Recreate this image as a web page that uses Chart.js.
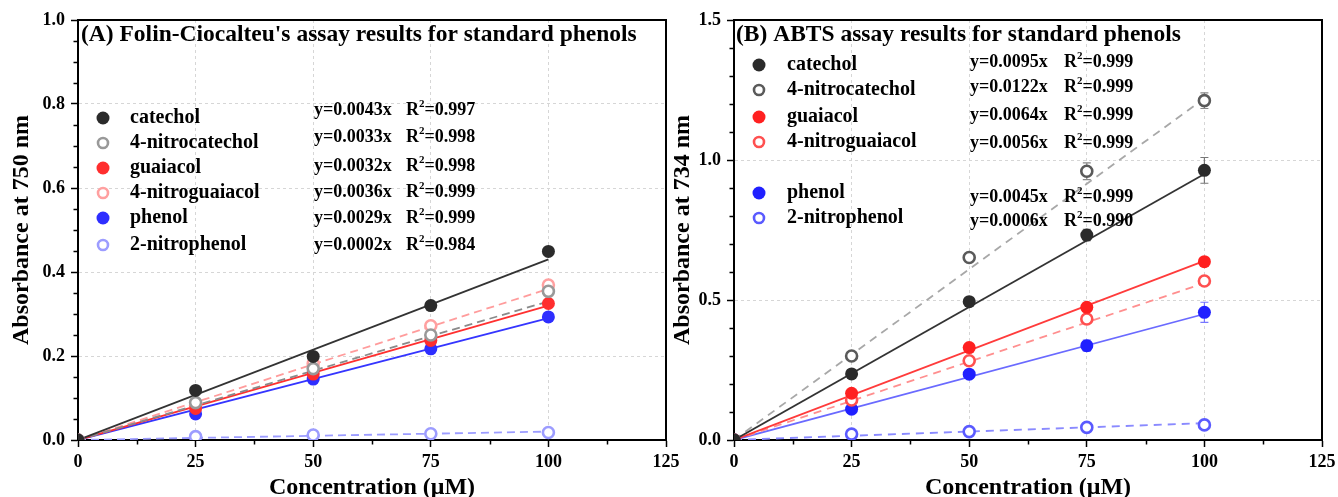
<!DOCTYPE html>
<html><head><meta charset="utf-8">
<script src="https://cdn.jsdelivr.net/npm/chart.js@4"></script>
<style>
html,body{margin:0;padding:0;background:#fff;}
#wrap{position:relative;width:1338px;height:497px;overflow:hidden;background:#fff;}
#boxA{position:absolute;left:0;top:0;width:700px;height:497px;}
#boxB{position:absolute;left:669px;top:0;width:669px;height:497px;}
canvas{display:block;}
</style></head><body>
<div id="wrap">
<div id="boxA"><canvas id="cA" width="700" height="497"></canvas></div>
<div id="boxB"><canvas id="cB" width="669" height="497"></canvas></div>
</div>
<script>
// ---------- DATA ----------
const concentrations = [0, 25, 50, 75, 100];
const compounds = ['catechol', '4-nitrocatechol', 'guaiacol', '4-nitroguaiacol', 'phenol', '2-nitrophenol'];
const xTickLabels = ['0', '25', '50', '75', '100', '125'];
const yTickLabelsA = ['0.0', '0.2', '0.4', '0.6', '0.8', '1.0'];
const yTickLabelsB = ['0.0', '0.5', '1.0', '1.5'];

// (A) Folin-Ciocalteu absorbance at 750 nm
const folinCatechol       = [0, 0.118, 0.199, 0.320, 0.449];
const folinNitrocatechol  = [0, 0.089, 0.170, 0.250, 0.354];
const folinGuaiacol       = [0, 0.075, 0.157, 0.237, 0.325];
const folinNitroguaiacol  = [0, 0.082, 0.182, 0.272, 0.369];
const folinPhenol         = [0, 0.062, 0.145, 0.217, 0.293];
const folinNitrophenol    = [0, 0.008, 0.012, 0.015, 0.018];
const folinErr            = [0, 0.006, 0.006, 0.006, 0.006];
const folinSlopes = [0.0043, 0.0033, 0.0032, 0.0036, 0.0029, 0.0002];
const folinR2     = ['0.997', '0.998', '0.998', '0.999', '0.999', '0.984'];

// (B) ABTS absorbance at 734 nm
const abtsCatechol        = [0, 0.236, 0.494, 0.732, 0.963];
const abtsNitrocatechol   = [0, 0.300, 0.652, 0.960, 1.212];
const abtsGuaiacol        = [0, 0.167, 0.330, 0.474, 0.637];
const abtsNitroguaiacol   = [0, 0.143, 0.283, 0.432, 0.568];
const abtsPhenol          = [0, 0.110, 0.235, 0.337, 0.456];
const abtsNitrophenol     = [0, 0.021, 0.030, 0.045, 0.054];
const abtsCatecholErr      = [0, 0.010, 0.012, 0.020, 0.046];
const abtsNitrocatecholErr = [0, 0.012, 0.012, 0.030, 0.028];
const abtsGuaiacolErr      = [0, 0.008, 0.010, 0.010, 0.012];
const abtsNitroguaiacolErr = [0, 0.008, 0.010, 0.012, 0.010];
const abtsPhenolErr        = [0, 0.008, 0.010, 0.020, 0.036];
const abtsNitrophenolErr   = [0, 0.004, 0.004, 0.004, 0.006];
const abtsSlopes = [0.0095, 0.0122, 0.0064, 0.0056, 0.0045, 0.0006];
const abtsR2     = ['0.999', '0.999', '0.999', '0.999', '0.999', '0.990'];

// ---------- STYLES ----------
const SERIF = "'Liberation Serif', 'Times New Roman', serif";
const stylesA = [
  {color:'#2b2b2b', fill:true,  line:'#333333', dash:[],    err:'#555'},
  {color:'#999999', fill:false, line:'#8a8a8a', dash:[8,5], err:'#999'},
  {color:'#ff2e2e', fill:true,  line:'#ff3030', dash:[],    err:'#f66'},
  {color:'#ffa0a0', fill:false, line:'#ff9c9c', dash:[8,5], err:'#fbb'},
  {color:'#2e2eff', fill:true,  line:'#3535ff', dash:[],    err:'#66f'},
  {color:'#9c9cff', fill:false, line:'#9c9cff', dash:[8,5], err:'#bbf'}
];
const stylesB = [
  {color:'#2b2b2b', fill:true,  line:'#333333', dash:[],    err:'#777'},
  {color:'#5a5a5a', fill:false, line:'#a8a8a8', dash:[8,6], err:'#888'},
  {color:'#ff2020', fill:true,  line:'#ff3b3b', dash:[],    err:'#f77'},
  {color:'#ff5050', fill:false, line:'#ff8f8f', dash:[8,6], err:'#f99'},
  {color:'#2020ff', fill:true,  line:'#6a6aff', dash:[],    err:'#77f'},
  {color:'#5a5aff', fill:false, line:'#8a8aff', dash:[8,6], err:'#99f'}
];

function buildDatasets(series, errs, slopes, styles) {
  const ds = [];
  series.forEach((vals, i) => {
    const st = styles[i];
    ds.push({
      type: 'line', label: compounds[i] + ' fit',
      data: [{x: 0, y: 0}, {x: 100, y: slopes[i] * 100}],
      borderColor: st.line, borderWidth: 1.8, borderDash: st.dash,
      pointRadius: 0, fill: false, order: 2
    });
  });
  series.forEach((vals, i) => {
    const st = styles[i];
    ds.push({
      type: 'scatter', label: compounds[i],
      data: concentrations.map((c, j) => ({x: c, y: vals[j]})),
      errors: errs[i], errColor: st.err,
      pointRadius: st.fill ? 6.5 : 5.5,
      pointBackgroundColor: st.fill ? st.color : '#ffffff',
      pointBorderColor: st.color,
      pointBorderWidth: st.fill ? 0 : 2.6,
      order: 1
    });
  });
  return ds;
}

function isMult(v, step) { const q = v / step; return Math.abs(q - Math.round(q)) < 1e-6; }

function makeDecor(cfg) {
  return {
    id: 'decor',
    beforeDatasetsDraw(chart) {
      const ctx = chart.ctx, xs = chart.scales.x, ys = chart.scales.y;
      chart.data.datasets.forEach(ds => {
        if (!ds.errors) return;
        ctx.save();
        ctx.strokeStyle = ds.errColor; ctx.lineWidth = 1.2;
        ds.data.forEach((p, j) => {
          const e = ds.errors[j]; if (!e) return;
          const x = xs.getPixelForValue(p.x);
          const y1 = ys.getPixelForValue(p.y - e), y2 = ys.getPixelForValue(p.y + e);
          ctx.beginPath();
          ctx.moveTo(x, y1); ctx.lineTo(x, y2);
          ctx.moveTo(x - 4, y1); ctx.lineTo(x + 4, y1);
          ctx.moveTo(x - 4, y2); ctx.lineTo(x + 4, y2);
          ctx.stroke();
        });
        ctx.restore();
      });
    },
    afterDraw(chart) {
      const ctx = chart.ctx, a = chart.chartArea;
      const xs = chart.scales.x, ys = chart.scales.y;
      ctx.save();
      // minor ticks (shorter than major)
      ctx.strokeStyle = '#000'; ctx.lineWidth = 1.5;
      ctx.beginPath();
      xs.ticks.forEach(t => {
        if (isMult(t.value, 25)) return;
        const px = Math.round(xs.getPixelForValue(t.value)) + 0.5;
        ctx.moveTo(px, a.bottom); ctx.lineTo(px, a.bottom + 4.5);
      });
      ys.ticks.forEach(t => {
        if (isMult(t.value, cfg.yMajor)) return;
        const py = Math.round(ys.getPixelForValue(t.value)) + 0.5;
        ctx.moveTo(a.left, py); ctx.lineTo(a.left - 4.5, py);
      });
      ctx.stroke();
      // frame
      ctx.strokeStyle = '#000'; ctx.lineWidth = 2;
      ctx.beginPath();
      ctx.moveTo(a.left, a.top); ctx.lineTo(a.right, a.top); ctx.lineTo(a.right, a.bottom);
      ctx.stroke();
      // title
      ctx.fillStyle = '#000';
      ctx.textBaseline = 'middle'; ctx.textAlign = 'left';
      ctx.font = 'bold 23.5px ' + SERIF;
      ctx.fillText(cfg.title, a.left + cfg.titleDx, a.top + cfg.titleDy);
      // legend
      compounds.forEach((name, i) => {
        const st = cfg.styles[i];
        const my = a.top + cfg.rowY[i];
        ctx.beginPath();
        if (st.fill) {
          ctx.arc(a.left + cfg.markDx, my, 6.5, 0, Math.PI * 2);
          ctx.fillStyle = st.color; ctx.fill();
        } else {
          ctx.arc(a.left + cfg.markDx, my, 5, 0, Math.PI * 2);
          ctx.strokeStyle = st.color; ctx.lineWidth = 2.6; ctx.stroke();
        }
        ctx.fillStyle = '#000';
        ctx.font = 'bold 20px ' + SERIF;
        ctx.fillText(name, a.left + cfg.labelDx, my);
        const ey = a.top + cfg.eqY[i];
        ctx.font = 'bold 18px ' + SERIF;
        ctx.fillText('y=' + cfg.slopes[i].toFixed(4) + 'x', a.left + cfg.eqDx, ey);
        let rx = a.left + cfg.rDx;
        ctx.fillText('R', rx, ey);
        rx += ctx.measureText('R').width;
        ctx.font = 'bold 11px ' + SERIF;
        ctx.fillText('2', rx, ey - 6);
        rx += ctx.measureText('2').width;
        ctx.font = 'bold 18px ' + SERIF;
        ctx.fillText('=' + cfg.r2[i], rx, ey);
      });
      ctx.restore();
    }
  };
}

function makeChart(id, opt) {
  const tickFont = {family: SERIF, size: 18, weight: 'bold'};
  const titleFont = {family: SERIF, size: 24, weight: 'bold', lineHeight: 1};
  return new Chart(document.getElementById(id), {
    data: {datasets: opt.datasets},
    options: {
      responsive: false, animation: false,
      layout: {padding: {left: 0, top: 20, right: opt.padRight, bottom: 0}},
      plugins: {legend: {display: false}, tooltip: {enabled: false}},
      scales: {
        x: {
          type: 'linear', min: 0, max: 125,
          afterFit(s) { s.height = 57; s.paddingLeft = 0; s.paddingRight = 0; },
          ticks: {
            stepSize: 12.5, autoSkip: false, maxRotation: 0, padding: 5,
            color: '#000', font: tickFont,
            callback: v => isMult(v, 25) ? xTickLabels[Math.round(v / 25)] : ''
          },
          grid: {
            color: c => (c.tick && isMult(c.tick.value, 25) && c.tick.value > 0 && c.tick.value < 125) ? '#d6d6d6' : 'rgba(0,0,0,0)',
            lineWidth: 1,
            tickColor: c => (c.tick && isMult(c.tick.value, 25)) ? '#000' : 'rgba(0,0,0,0)',
            tickLength: 7, tickWidth: 1.5
          },
          border: {display: true, color: '#000', width: 2, dash: [3, 3]},
          title: {display: true, text: 'Concentration (\u03bcM)', color: '#000', font: titleFont, padding: {top: 0, bottom: -3}}
        },
        y: {
          type: 'linear', min: 0, max: opt.yMax,
          afterFit(s) { s.width = opt.yWidth; s.paddingTop = 0; s.paddingBottom = 0; },
          ticks: {
            stepSize: opt.yMinor, autoSkip: false, padding: 6,
            color: '#000', font: tickFont,
            callback: v => isMult(v, opt.yMajor) ? opt.yLabels[Math.round(v / opt.yMajor)] : ''
          },
          grid: {
            color: c => (c.tick && isMult(c.tick.value, opt.yMajor) && c.tick.value > 1e-9 && c.tick.value < opt.yMax - 1e-9) ? '#d6d6d6' : 'rgba(0,0,0,0)',
            lineWidth: 1,
            tickColor: c => (c.tick && isMult(c.tick.value, opt.yMajor)) ? '#000' : 'rgba(0,0,0,0)',
            tickLength: 7, tickWidth: 1.5
          },
          border: {display: true, color: '#000', width: 2, dash: [3, 3]},
          title: {display: true, text: opt.yTitle, color: '#000', font: titleFont, padding: {top: opt.yTitlePad, bottom: 0}}
        }
      }
    },
    plugins: [makeDecor(Object.assign({yMajor: opt.yMajor}, opt.decor))]
  });
}

makeChart('cA', {
  datasets: buildDatasets(
    [folinCatechol, folinNitrocatechol, folinGuaiacol, folinNitroguaiacol, folinPhenol, folinNitrophenol],
    [folinErr, folinErr, folinErr, folinErr, folinErr, folinErr],
    folinSlopes, stylesA),
  padRight: 34, yWidth: 78, yMax: 1.0, yMinor: 0.05, yMajor: 0.2, yLabels: yTickLabelsA,
  yTitle: 'Absorbance at 750 nm', yTitlePad: 10,
  decor: {
    title: "(A) Folin-Ciocalteu's assay results for standard phenols", titleDx: 3, titleDy: 15,
    styles: stylesA, slopes: folinSlopes, r2: folinR2,
    markDx: 25, labelDx: 52, eqDx: 236, rDx: 328,
    rowY: [98, 123, 148, 173, 198, 225],
    eqY:  [90, 117, 146, 172, 198, 225]
  }
});

makeChart('cB', {
  datasets: buildDatasets(
    [abtsCatechol, abtsNitrocatechol, abtsGuaiacol, abtsNitroguaiacol, abtsPhenol, abtsNitrophenol],
    [abtsCatecholErr, abtsNitrocatecholErr, abtsGuaiacolErr, abtsNitroguaiacolErr, abtsPhenolErr, abtsNitrophenolErr],
    abtsSlopes, stylesB),
  padRight: 16, yWidth: 65, yMax: 1.5, yMinor: 0.1, yMajor: 0.5, yLabels: yTickLabelsB,
  yTitle: 'Absorbance at 734 nm', yTitlePad: 2,
  decor: {
    title: '(B) ABTS assay results for standard phenols', titleDx: 2, titleDy: 15,
    styles: stylesB, slopes: abtsSlopes, r2: abtsR2,
    markDx: 25, labelDx: 53, eqDx: 236, rDx: 330,
    rowY: [45, 70, 97, 122, 173, 198],
    eqY:  [42, 67, 95, 123, 177, 201]
  }
});
</script>
</body></html>
